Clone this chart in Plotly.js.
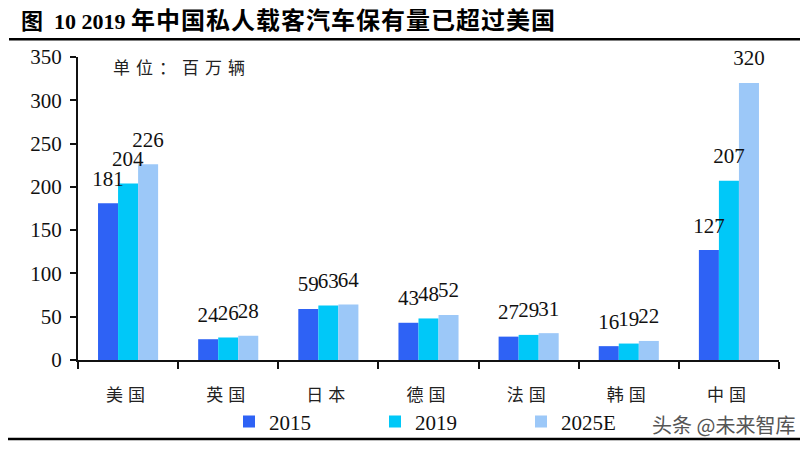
<!DOCTYPE html>
<html><head><meta charset="utf-8">
<script src="https://cdn.plot.ly/plotly-3.0.1.min.js"></script>
<style>html,body{margin:0;padding:0;background:#fff}#c{width:812px;height:454px}</style>
</head><body><div id="c"></div>
<script>
const categories = ["美国","英国","日本","德国","法国","韩国","中国"];
const v2015 = [181, 24, 59, 43, 27, 16, 127];
const v2019 = [204, 26, 63, 48, 29, 19, 207];
const v2025 = [226, 28, 64, 52, 31, 22, 320];
const seriesNames = ["2015","2019","2025E"];
const colors = ["#2E62F5","#00C8F8","#9CC8F8"];
const serif = "Liberation Serif, Times New Roman, serif";
const labelGap = 11; // visual gap above bars for value labels (axis units)

const series = [v2015, v2019, v2025];
const bars = series.map((vals, i) => ({
  type: "bar", x: categories, y: vals, name: seriesNames[i],
  xaxis: "x", yaxis: "y",
  marker: {color: colors[i]}, hoverinfo: "skip"
}));
// value labels: transparent bars stacked on top of each real bar, drawn on an overlay axis
const labels = series.map((vals, i) => ({
  type: "bar", x: categories, y: vals.map(() => labelGap), base: vals,
  xaxis: "x2", yaxis: "y", showlegend: false,
  marker: {color: "rgba(0,0,0,0)"},
  text: vals.map(String), textposition: "outside", constraintext: "none",
  textfont: {family: serif, size: 21, color: "#111"},
  cliponaxis: false, hoverinfo: "skip"
}));

const L = 78, R = 779, T = 57, B = 364;
const px = x => (x - L) / (R - L);
const py = y => (B - y) / (B - T);

const layout = {
  width: 812, height: 454,
  margin: {l: L, r: 812 - R, t: T, b: 454 - B},
  paper_bgcolor: "#fff", plot_bgcolor: "#fff",
  barmode: "group", bargap: 0.4, bargroupgap: 0,
  showlegend: true,
  legend: {orientation: "h", x: px(229), xanchor: "left", y: py(406), yanchor: "top",
    font: {family: serif, size: 21, color: "#111"}, entrywidth: 101, entrywidthmode: "pixels",
    itemwidth: 30, tracegroupgap: 0, bgcolor: "rgba(0,0,0,0)"},
  xaxis: {type: "category", range: [-0.5, 6.5], showline: true, linecolor: "#111", linewidth: 2,
    ticks: "outside", tickson: "boundaries", ticklen: 7, tickwidth: 2, tickcolor: "#111",
    tickvals: categories,
    ticktext: categories.map(c => `<span style="letter-spacing:5px">${c}</span>`),
    ticklabelstandoff: 19,
    tickfont: {family: "Noto Sans CJK SC", size: 17, color: "#222"},
    showgrid: false, zeroline: false},
  xaxis2: {type: "category", range: [-0.5, 6.5], overlaying: "x", visible: false,
    showgrid: false, zeroline: false},
  yaxis: {range: [0, 350], dtick: 50, showline: true, linecolor: "#111", linewidth: 2,
    ticks: "outside", ticklen: 6, tickwidth: 2, tickcolor: "#111", ticklabelstandoff: 4,
    tickfont: {family: serif, size: 21, color: "#111"},
    showgrid: false, zeroline: false},
  annotations: [
    {text: '<b>图  10 2019 <span style="font-size:24px;letter-spacing:1px">年中国私人载客汽车保有量已超过美国</span></b>',
     xref: "paper", yref: "paper",
     x: px(19), y: py(20), xanchor: "left", yanchor: "middle", showarrow: false,
     font: {family: "Liberation Serif, Noto Sans CJK SC", size: 22, color: "#000"}},
    {text: '<span style="letter-spacing:6px">单位：百万辆</span>', xref: "paper", yref: "paper",
     x: px(111), y: py(67), xanchor: "left", yanchor: "middle", showarrow: false,
     font: {family: "Noto Sans CJK SC", size: 17, color: "#222"}},
    {text: "头条 @未来智库", xref: "paper", yref: "paper", x: px(650), y: py(429),
     xanchor: "left", yanchor: "middle", showarrow: false,
     font: {family: "Noto Sans CJK SC", size: 20, color: "#555"}}
  ],
  shapes: [
    {type: "line", xref: "paper", yref: "paper", x0: px(9), x1: px(800), y0: py(39), y1: py(39),
     line: {color: "#000", width: 2.5}},
    {type: "line", xref: "paper", yref: "paper", x0: px(8), x1: px(800), y0: py(444), y1: py(444),
     line: {color: "#000", width: 2.5}}
  ]
};
Plotly.newPlot("c", bars.concat(labels), layout, {staticPlot: true, displayModeBar: false});
</script></body></html>
